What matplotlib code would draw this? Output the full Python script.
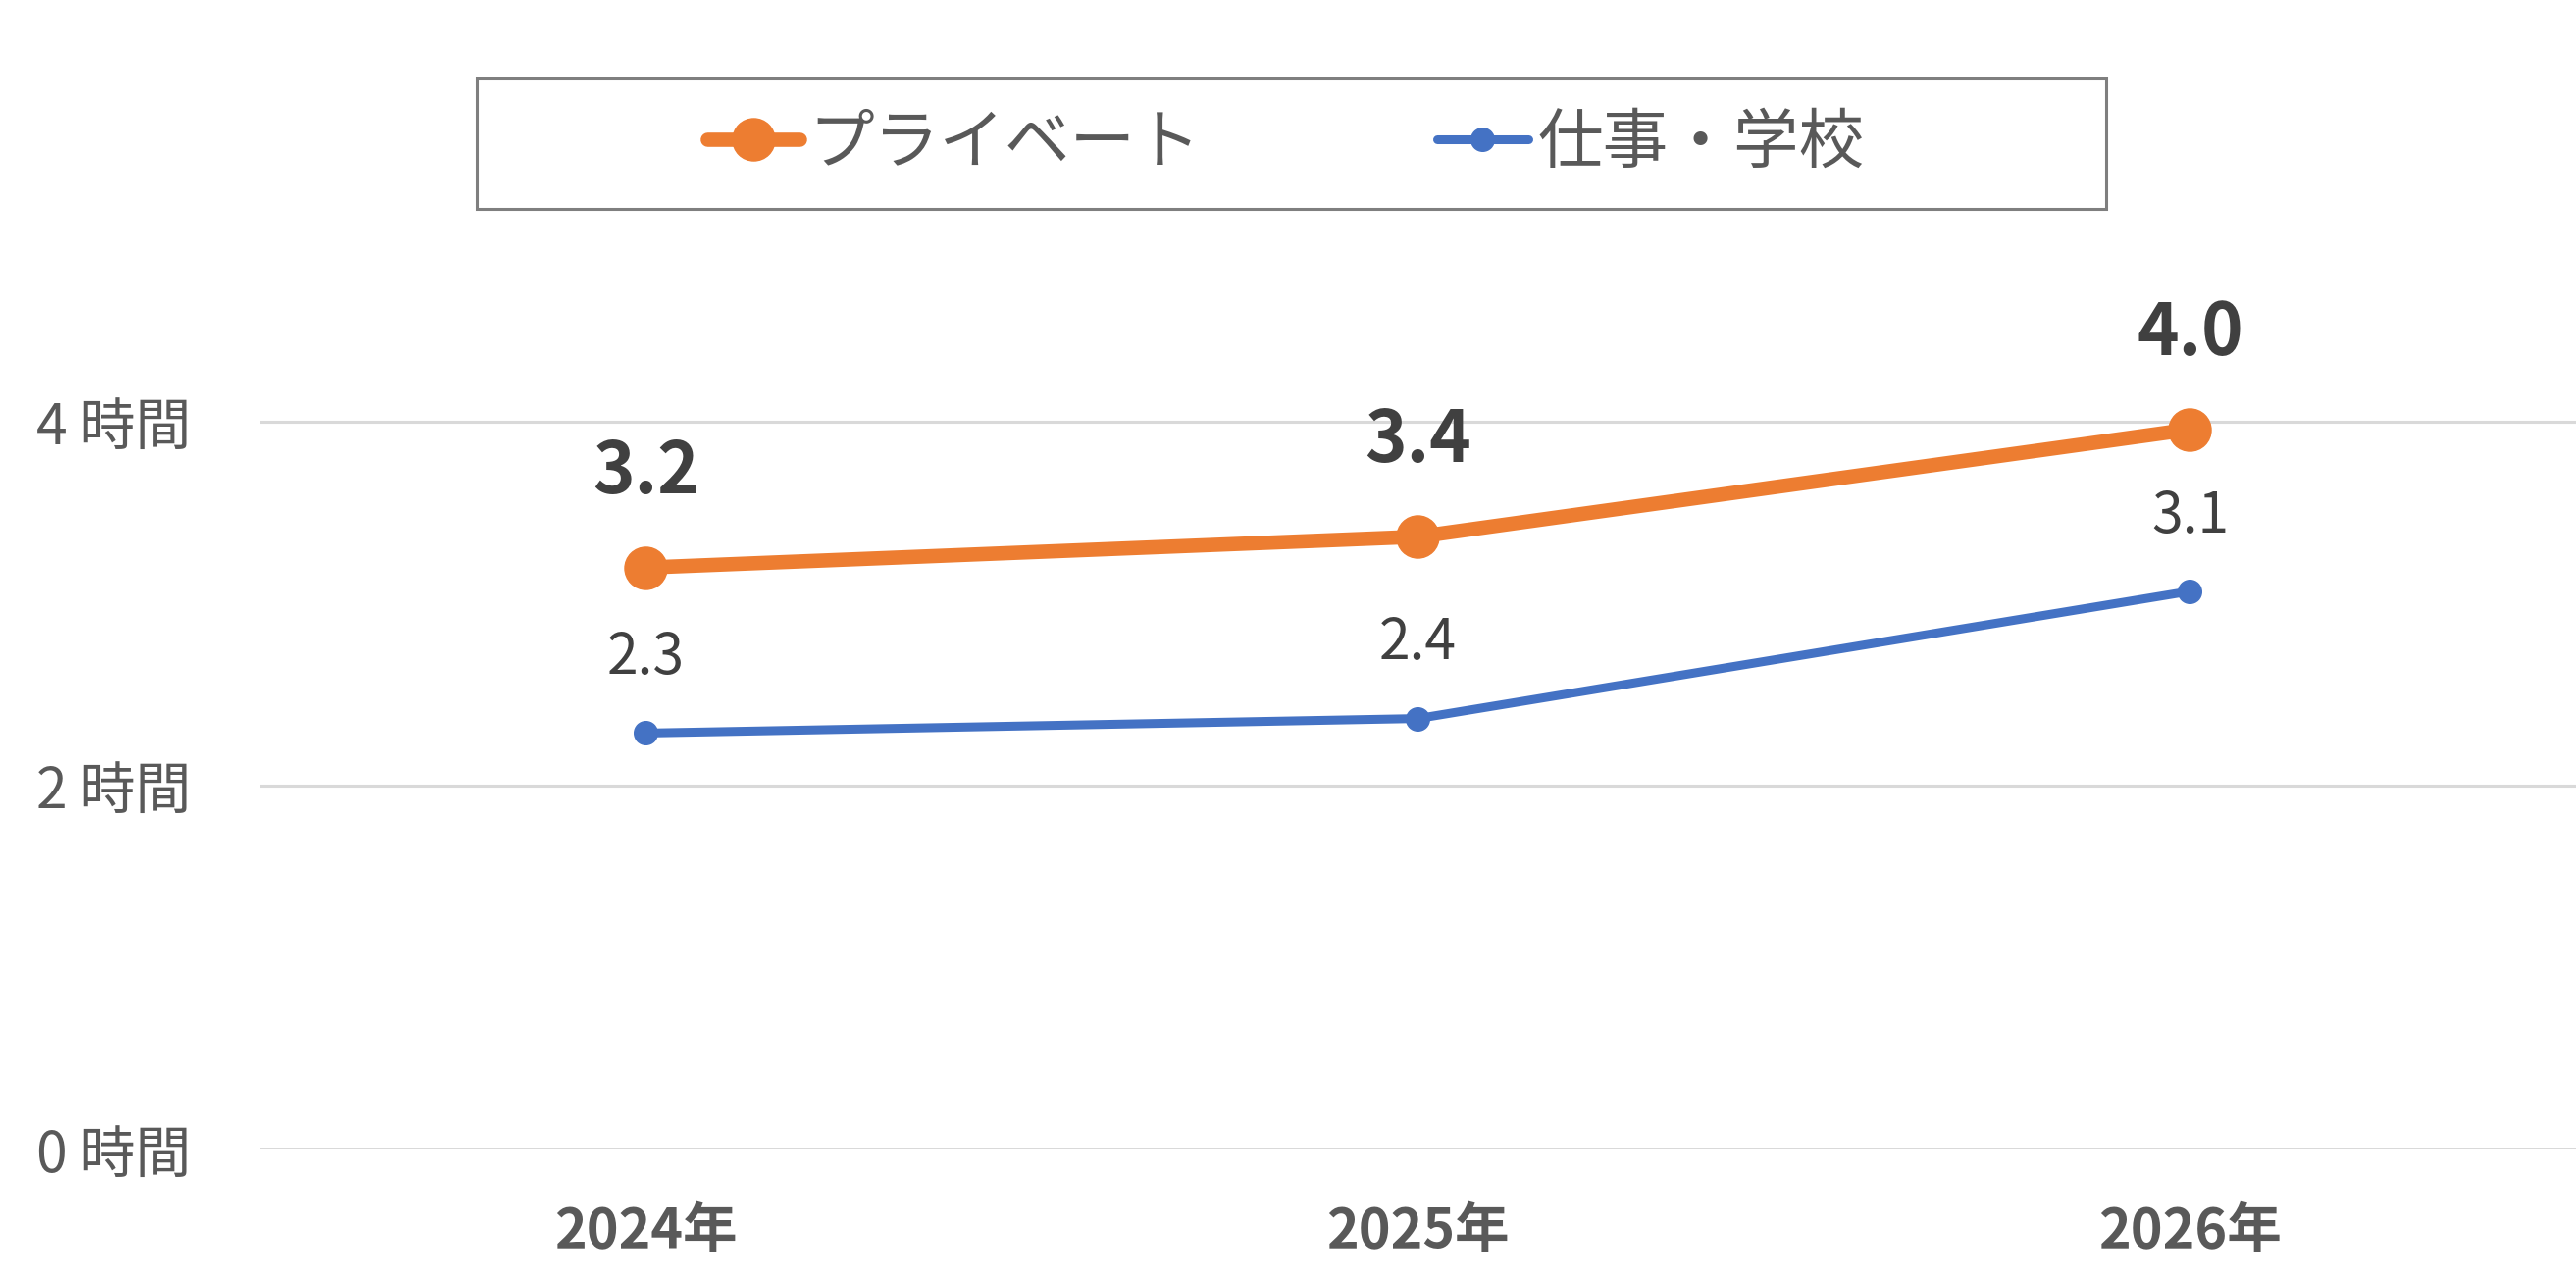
import matplotlib
matplotlib.use("Agg")
import matplotlib.pyplot as plt
from matplotlib.patches import Rectangle

plt.rcParams['font.family'] = ['Noto Sans CJK JP', 'DejaVu Sans']

categories = ["2024年", "2025年", "2026年"]
private_vals = [3.2, 3.37, 3.96]
private_labels = ["3.2", "3.4", "4.0"]
work_vals = [2.29, 2.37, 3.07]
work_labels = ["2.3", "2.4", "3.1"]
yticks = [0, 2, 4]
ytick_labels = ["0 時間", "2 時間", "4 時間"]
series_names = ["プライベート", "仕事・学校"]

ORANGE = "#ED7D31"
BLUE = "#4472C4"
TXT = "#595959"
DARK = "#404040"

fig = plt.figure(figsize=(26.26, 13.0), dpi=100)
ax = fig.add_axes([0.1009, 0.0985, 0.8991, 0.713])

x = list(range(len(categories)))
l1, = ax.plot(x, private_vals, color=ORANGE, lw=10.5, marker='o', ms=31,
              solid_capstyle='round', zorder=3, label=series_names[0])
l2, = ax.plot(x, work_vals, color=BLUE, lw=6.5, marker='o', ms=17,
              solid_capstyle='round', zorder=3, label=series_names[1])

for xi, v, t in zip(x, private_vals, private_labels):
    ax.annotate(t, (xi, v), xytext=(0, 70), textcoords='offset points',
                ha='center', va='center', fontsize=52, fontweight='bold', color=DARK)
for xi, v, t in zip(x, work_vals, work_labels):
    ax.annotate(t, (xi, v), xytext=(0, 55), textcoords='offset points',
                ha='center', va='center', fontsize=41, color=DARK)

ax.set_xlim(-0.5, 2.5)
ax.set_ylim(0, 5)
ax.set_yticks(yticks)
ax.set_yticklabels(ytick_labels, fontsize=41, color=TXT)
ax.set_xticks(x)
ax.set_xticklabels(categories, fontsize=40, fontweight='bold', color=TXT)
ax.tick_params(axis='both', length=0)
ax.tick_params(axis='x', pad=40)
for lab in ax.get_yticklabels():
    lab.set_horizontalalignment('left')
ax.yaxis.set_tick_params(pad=164)

ax.grid(axis='y', color='#D9D9D9', lw=2.2)
ax.set_axisbelow(True)
for s in ax.spines.values():
    s.set_visible(False)

# legend frame
fig.patches.append(Rectangle((486/2626, 1 - 213/1300), (2147-486)/2626, (213-80)/1300,
                             transform=fig.transFigure, fill=False,
                             edgecolor='#7F7F7F', lw=2.2))
leg = fig.legend(handles=[l1, l2], labels=series_names, loc='center',
                 bbox_to_anchor=((486+2147)/2/2626 - 0.002, 1 - (80+213)/2/1300),
                 ncol=2, frameon=False, fontsize=48, handlelength=1.4,
                 handletextpad=0.15, columnspacing=3.6, labelcolor=TXT)

fig.savefig("out.png", dpi=100)
